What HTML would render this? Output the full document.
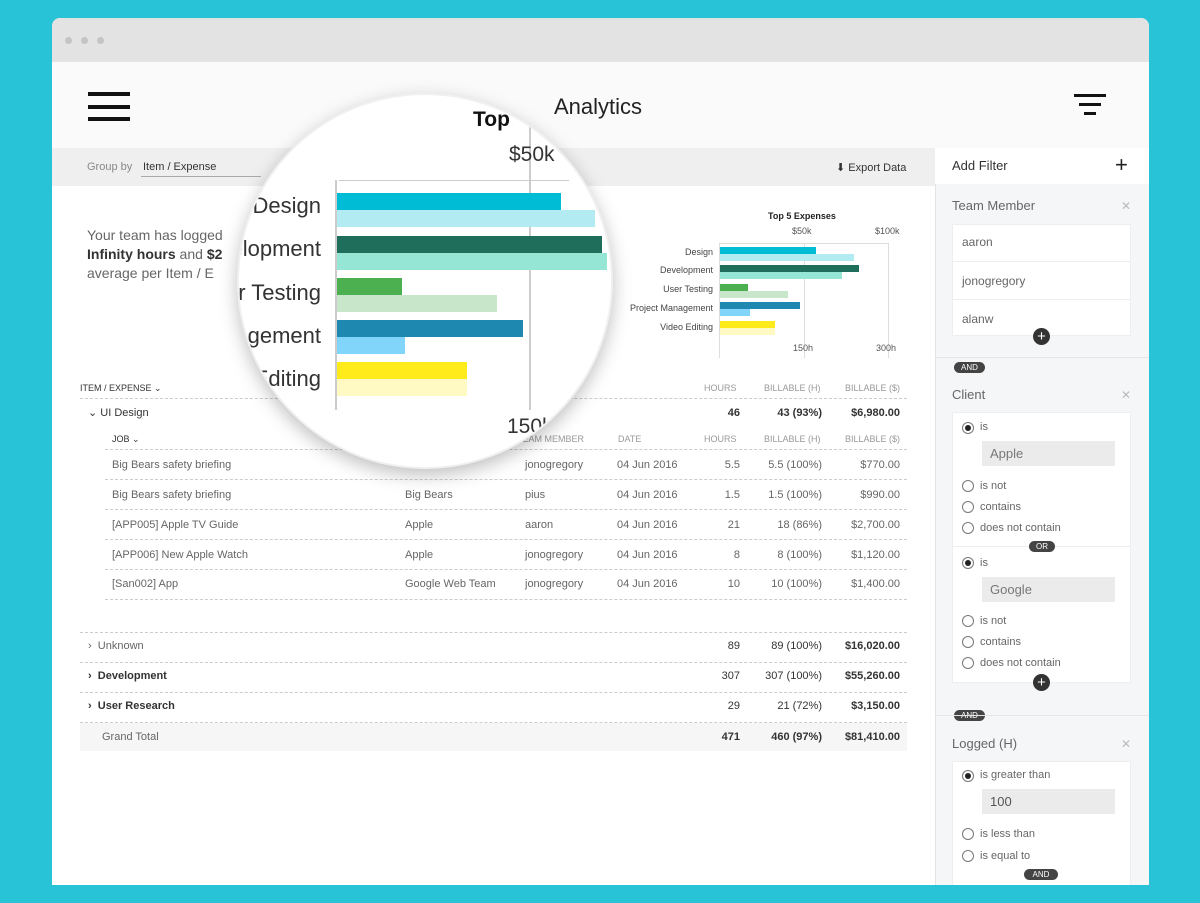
<!DOCTYPE html>
<html><head><meta charset="utf-8"><style>
*{margin:0;padding:0;box-sizing:border-box}
body{width:1200px;height:903px;background:#28c3d6;font-family:"Liberation Sans",sans-serif;position:relative;overflow:hidden;color:#555}
.a{position:absolute;white-space:nowrap}
.win{position:absolute;left:52px;top:18px;width:1097px;height:867px;background:#fff;border-radius:8px 8px 0 0;overflow:hidden}
.s{font-size:11px;color:#666}
.h{font-size:9px;color:#999}
.dash{position:absolute;height:0;border-top:1px dashed #ccc}
.r{text-align:right}
.rad{position:absolute;width:12px;height:12px;border:1px solid #777;border-radius:50%;background:#fff}
.rad.on::after{content:"";position:absolute;left:2px;top:2px;width:6px;height:6px;border-radius:50%;background:#222}
</style></head><body>
<div class="win">
<div class="a" style="left:0;top:0;width:1097px;height:44px;background:#e3e3e3"></div>
<div class="a" style="left:13px;top:19px;width:7px;height:7px;border-radius:50%;background:#c4c4c4"></div>
<div class="a" style="left:29px;top:19px;width:7px;height:7px;border-radius:50%;background:#c4c4c4"></div>
<div class="a" style="left:45px;top:19px;width:7px;height:7px;border-radius:50%;background:#c4c4c4"></div>
<div class="a" style="left:0;top:44px;width:1097px;height:86px;background:#fafafa"></div>
<div class="a" style="left:36px;top:74px;width:42px;height:4px;background:#111"></div>
<div class="a" style="left:36px;top:87px;width:42px;height:4px;background:#111"></div>
<div class="a" style="left:36px;top:99px;width:42px;height:4px;background:#111"></div>
<div class="a" style="left:502px;top:76px;font-size:22px;color:#222">Analytics</div>
<div class="a" style="left:1022px;top:76px;width:32px;height:3px;background:#111"></div>
<div class="a" style="left:1027px;top:85px;width:22px;height:3px;background:#111"></div>
<div class="a" style="left:1032px;top:94px;width:12px;height:3px;background:#111"></div>
<div class="a" style="left:0;top:130px;width:883px;height:38px;background:#efefef"></div>
<div class="a s" style="left:35px;top:143px;color:#888">Group by</div>
<div class="a s" style="left:91px;top:143px;color:#333">Item / Expense</div>
<div class="a" style="left:89px;top:158px;width:120px;height:1px;background:#aaa"></div>
<div class="a s" style="left:784px;top:143px;color:#333">⬇ Export Data</div>
<!-- right panel -->
<div class="a" style="left:883px;top:130px;width:214px;height:737px;background:#f5f6f7;border-left:1px solid #e4e4e4"></div>
<div class="a" style="left:883px;top:130px;width:214px;height:36px;background:#fff"></div>
<div class="a" style="left:900px;top:140px;font-size:13px;color:#333">Add Filter</div>
<div class="a" style="left:1063px;top:134px;font-size:22px;color:#222">+</div>
<div class="a" style="left:900px;top:180px;font-size:13px;color:#666">Team Member</div>
<div class="a" style="left:1069px;top:181px;font-size:12px;color:#bbb">✕</div>
<div class="a" style="left:900px;top:206px;width:179px;height:112px;background:#fff;border:1px solid #eee"></div>
<div class="a s" style="left:910px;top:217px;font-size:12px">aaron</div>
<div class="a" style="left:900px;top:243px;width:179px;height:1px;background:#eee"></div>
<div class="a s" style="left:910px;top:256px;font-size:12px">jonogregory</div>
<div class="a" style="left:900px;top:281px;width:179px;height:1px;background:#eee"></div>
<div class="a s" style="left:910px;top:294px;font-size:12px">alanw</div>
<div class="a" style="left:981px;top:310px;width:17px;height:17px;border-radius:50%;background:#333;color:#fff;font-size:15px;line-height:17px;text-align:center">+</div>
<div class="a" style="left:883px;top:339px;width:214px;height:1px;background:#e6e6e6"></div>
<div class="a" style="left:902px;top:344px;width:31px;height:11px;border-radius:6px;background:#444;color:#fff;font-size:8px;line-height:11px;text-align:center">AND</div>
<div class="a" style="left:900px;top:369px;font-size:13px;color:#666">Client</div>
<div class="a" style="left:1069px;top:370px;font-size:12px;color:#bbb">✕</div>
<div class="a" style="left:900px;top:394px;width:179px;height:271px;background:#fff;border:1px solid #eee"></div>
<div class="rad on" style="left:910px;top:404px"></div><div class="a s" style="left:928px;top:403px">is</div>
<div class="a" style="left:930px;top:423px;width:133px;height:25px;background:#ebebeb;font-size:13px;color:#777;padding:5px 8px">Apple</div>
<div class="rad" style="left:910px;top:462px"></div><div class="a s" style="left:928px;top:462px">is not</div>
<div class="rad" style="left:910px;top:483px"></div><div class="a s" style="left:928px;top:483px">contains</div>
<div class="rad" style="left:910px;top:504px"></div><div class="a s" style="left:928px;top:504px">does not contain</div>
<div class="a" style="left:900px;top:528px;width:179px;height:1px;background:#eee"></div>
<div class="a" style="left:977px;top:523px;width:26px;height:11px;border-radius:6px;background:#444;color:#fff;font-size:8px;line-height:11px;text-align:center">OR</div>
<div class="rad on" style="left:910px;top:539px"></div><div class="a s" style="left:928px;top:539px">is</div>
<div class="a" style="left:930px;top:559px;width:133px;height:25px;background:#ebebeb;font-size:13px;color:#777;padding:5px 8px">Google</div>
<div class="rad" style="left:910px;top:597px"></div><div class="a s" style="left:928px;top:597px">is not</div>
<div class="rad" style="left:910px;top:618px"></div><div class="a s" style="left:928px;top:618px">contains</div>
<div class="rad" style="left:910px;top:639px"></div><div class="a s" style="left:928px;top:639px">does not contain</div>
<div class="a" style="left:981px;top:656px;width:17px;height:17px;border-radius:50%;background:#333;color:#fff;font-size:15px;line-height:17px;text-align:center">+</div>
<div class="a" style="left:902px;top:692px;width:31px;height:11px;border-radius:6px;background:#444;color:#fff;font-size:8px;line-height:11px;text-align:center">AND</div>
<div class="a" style="left:883px;top:697px;width:214px;height:1px;background:#e6e6e6"></div>
<div class="a" style="left:900px;top:718px;font-size:13px;color:#666">Logged (H)</div>
<div class="a" style="left:1069px;top:719px;font-size:12px;color:#bbb">✕</div>
<div class="a" style="left:900px;top:743px;width:179px;height:130px;background:#fff;border:1px solid #eee"></div>
<div class="rad on" style="left:910px;top:752px"></div><div class="a s" style="left:928px;top:751px">is greater than</div>
<div class="a" style="left:930px;top:771px;width:133px;height:25px;background:#ebebeb;font-size:13px;color:#555;padding:5px 8px">100</div>
<div class="rad" style="left:910px;top:810px"></div><div class="a s" style="left:928px;top:810px">is less than</div>
<div class="rad" style="left:910px;top:832px"></div><div class="a s" style="left:928px;top:832px">is equal to</div>
<div class="a" style="left:972px;top:851px;width:34px;height:11px;border-radius:6px;background:#444;color:#fff;font-size:8px;line-height:11px;text-align:center">AND</div>
<!-- summary text -->
<div class="a" style="left:35px;top:208px;font-size:14px;color:#666;line-height:19px;white-space:normal;width:150px">Your team has logged <b style="color:#333">Infinity hours</b> and <b style="color:#333">$2</b> average per Item / E</div>
<!-- small chart -->
<div class="a" style="left:716px;top:193px;font-size:9px;font-weight:bold;color:#222">Top 5 Expenses</div>
<div class="a h" style="left:740px;top:208px;color:#555">$50k</div>
<div class="a h" style="left:823px;top:208px;color:#555">$100k</div>
<div class="a" style="left:667px;top:225px;width:1px;height:115px;background:#ddd"></div>
<div class="a" style="left:752px;top:225px;width:1px;height:115px;background:#ddd"></div>
<div class="a" style="left:836px;top:225px;width:1px;height:115px;background:#ddd"></div>
<div class="a" style="left:667px;top:225px;width:170px;height:1px;background:#ddd"></div>
<div class="a h r" style="left:560px;top:229px;width:101px;color:#444">Design</div>
<div class="a h r" style="left:560px;top:247px;width:101px;color:#444">Development</div>
<div class="a h r" style="left:560px;top:266px;width:101px;color:#444">User Testing</div>
<div class="a h r" style="left:560px;top:285px;width:101px;color:#444">Project Management</div>
<div class="a h r" style="left:560px;top:304px;width:101px;color:#444">Video Editing</div>
<div class="a" style="left:668px;top:229px;width:96px;height:7px;background:#00bcd4"></div>
<div class="a" style="left:668px;top:236px;width:134px;height:7px;background:#b2ebf2"></div>
<div class="a" style="left:668px;top:247px;width:139px;height:7px;background:#1f6e5c"></div>
<div class="a" style="left:668px;top:254px;width:122px;height:7px;background:#96e6d6"></div>
<div class="a" style="left:668px;top:266px;width:28px;height:7px;background:#4caf50"></div>
<div class="a" style="left:668px;top:273px;width:68px;height:7px;background:#c8e6c9"></div>
<div class="a" style="left:668px;top:284px;width:80px;height:7px;background:#1e88b0"></div>
<div class="a" style="left:668px;top:291px;width:30px;height:7px;background:#81d4fa"></div>
<div class="a" style="left:668px;top:303px;width:55px;height:7px;background:#ffeb1a"></div>
<div class="a" style="left:668px;top:310px;width:55px;height:7px;background:#fff9c4"></div>
<div class="a h" style="left:741px;top:325px;color:#555">150h</div>
<div class="a h" style="left:824px;top:325px;color:#555">300h</div>
<!-- table -->
<div class="a" style="left:28px;top:365px;font-size:9px;color:#333">ITEM / EXPENSE ⌄</div>
<div class="a h" style="left:652px;top:365px">HOURS</div>
<div class="a h" style="left:712px;top:365px">BILLABLE (H)</div>
<div class="a h" style="left:793px;top:365px">BILLABLE ($)</div>
<div class="dash" style="left:28px;top:380px;width:827px"></div>
<div class="a" style="left:36px;top:388px;font-size:11px;color:#333">⌄ UI Design</div>
<div class="a r" style="left:600px;top:389px;width:88px;font-size:11px;font-weight:bold;color:#333">46</div>
<div class="a r" style="left:690px;top:389px;width:80px;font-size:11px;font-weight:bold;color:#333">43 (93%)</div>
<div class="a r" style="left:770px;top:389px;width:78px;font-size:11px;font-weight:bold;color:#333">$6,980.00</div>
<div class="a" style="left:60px;top:416px;font-size:9px;color:#333">JOB ⌄</div>
<div class="a h" style="left:465px;top:416px">TEAM MEMBER</div>
<div class="a h" style="left:566px;top:416px">DATE</div>
<div class="a h" style="left:652px;top:416px">HOURS</div>
<div class="a h" style="left:712px;top:416px">BILLABLE (H)</div>
<div class="a h" style="left:793px;top:416px">BILLABLE ($)</div>
<div class="dash" style="left:53px;top:431px;width:802px"></div>
<div class="a s" style="left:60px;top:441px">Big Bears safety briefing</div><div class="a s" style="left:473px;top:441px">jonogregory</div><div class="a s" style="left:565px;top:441px">04 Jun 2016</div><div class="a s r" style="left:600px;top:441px;width:88px">5.5</div><div class="a s r" style="left:690px;top:441px;width:80px">5.5 (100%)</div><div class="a s r" style="left:770px;top:441px;width:78px">$770.00</div>
<div class="dash" style="left:53px;top:461px;width:802px"></div>
<div class="a s" style="left:60px;top:471px">Big Bears safety briefing</div><div class="a s" style="left:353px;top:471px">Big Bears</div><div class="a s" style="left:473px;top:471px">pius</div><div class="a s" style="left:565px;top:471px">04 Jun 2016</div><div class="a s r" style="left:600px;top:471px;width:88px">1.5</div><div class="a s r" style="left:690px;top:471px;width:80px">1.5 (100%)</div><div class="a s r" style="left:770px;top:471px;width:78px">$990.00</div>
<div class="dash" style="left:53px;top:491px;width:802px"></div>
<div class="a s" style="left:60px;top:501px">[APP005] Apple TV Guide</div><div class="a s" style="left:353px;top:501px">Apple</div><div class="a s" style="left:473px;top:501px">aaron</div><div class="a s" style="left:565px;top:501px">04 Jun 2016</div><div class="a s r" style="left:600px;top:501px;width:88px">21</div><div class="a s r" style="left:690px;top:501px;width:80px">18 (86%)</div><div class="a s r" style="left:770px;top:501px;width:78px">$2,700.00</div>
<div class="dash" style="left:53px;top:521px;width:802px"></div>
<div class="a s" style="left:60px;top:531px">[APP006] New Apple Watch</div><div class="a s" style="left:353px;top:531px">Apple</div><div class="a s" style="left:473px;top:531px">jonogregory</div><div class="a s" style="left:565px;top:531px">04 Jun 2016</div><div class="a s r" style="left:600px;top:531px;width:88px">8</div><div class="a s r" style="left:690px;top:531px;width:80px">8 (100%)</div><div class="a s r" style="left:770px;top:531px;width:78px">$1,120.00</div>
<div class="dash" style="left:53px;top:551px;width:802px"></div>
<div class="a s" style="left:60px;top:560px">[San002] App</div><div class="a s" style="left:353px;top:560px">Google Web Team</div><div class="a s" style="left:473px;top:560px">jonogregory</div><div class="a s" style="left:565px;top:560px">04 Jun 2016</div><div class="a s r" style="left:600px;top:560px;width:88px">10</div><div class="a s r" style="left:690px;top:560px;width:80px">10 (100%)</div><div class="a s r" style="left:770px;top:560px;width:78px">$1,400.00</div>
<div class="dash" style="left:53px;top:581px;width:802px"></div>
<div class="dash" style="left:28px;top:614px;width:827px"></div>
<div class="a s" style="left:36px;top:622px">›&nbsp; Unknown</div><div class="a s r" style="left:600px;top:622px;width:88px;color:#333">89</div><div class="a s r" style="left:690px;top:622px;width:80px;color:#333">89 (100%)</div><div class="a s r" style="left:770px;top:622px;width:78px;color:#333;font-weight:bold">$16,020.00</div>
<div class="dash" style="left:28px;top:644px;width:827px"></div>
<div class="a s" style="left:36px;top:652px;color:#333;font-weight:bold">›&nbsp; Development</div><div class="a s r" style="left:600px;top:652px;width:88px;color:#333">307</div><div class="a s r" style="left:690px;top:652px;width:80px;color:#333">307 (100%)</div><div class="a s r" style="left:770px;top:652px;width:78px;color:#333;font-weight:bold">$55,260.00</div>
<div class="dash" style="left:28px;top:674px;width:827px"></div>
<div class="a s" style="left:36px;top:682px;color:#333;font-weight:bold">›&nbsp; User Research</div><div class="a s r" style="left:600px;top:682px;width:88px;color:#333">29</div><div class="a s r" style="left:690px;top:682px;width:80px;color:#333">21 (72%)</div><div class="a s r" style="left:770px;top:682px;width:78px;color:#333;font-weight:bold">$3,150.00</div>
<div class="dash" style="left:28px;top:704px;width:827px"></div>
<div class="a" style="left:28px;top:705px;width:827px;height:28px;background:#f6f6f6"></div>
<div class="a s" style="left:50px;top:713px">Grand Total</div><div class="a s r" style="left:600px;top:713px;width:88px;color:#333;font-weight:bold">471</div><div class="a s r" style="left:690px;top:713px;width:80px;color:#333;font-weight:bold">460 (97%)</div><div class="a s r" style="left:770px;top:713px;width:78px;color:#333;font-weight:bold">$81,410.00</div>
<!-- magnifier -->
<div class="a" style="left:185px;top:75px;width:376px;height:376px;border-radius:50%;background:#fff;box-shadow:0 6px 18px rgba(0,0,0,.25);overflow:hidden;border:2px solid #f0f0f0">
 <div class="a" style="left:100px;top:85px;width:230px;height:1px;background:#ccc"></div>
 <div class="a" style="left:96px;top:85px;width:2px;height:230px;background:#ccc"></div>
 <div class="a" style="left:290px;top:25px;width:2px;height:290px;background:#ccc"></div>
 <div class="a" style="left:234px;top:13px;font-size:21px;font-weight:bold;color:#111">Top</div>
 <div class="a" style="left:270px;top:48px;font-size:21px;color:#333">$50k</div>
 <div class="a" style="left:268px;top:320px;font-size:21px;color:#333">150h</div>
 <div class="a r" style="left:-120px;top:98px;width:202px;font-size:22px;color:#333">Design</div>
 <div class="a r" style="left:-120px;top:141px;width:202px;font-size:22px;color:#333">Development</div>
 <div class="a r" style="left:-120px;top:185px;width:202px;font-size:22px;color:#333">User Testing</div>
 <div class="a r" style="left:-120px;top:228px;width:202px;font-size:22px;color:#333">Management</div>
 <div class="a r" style="left:-120px;top:271px;width:202px;font-size:22px;color:#333">Editing</div>
 <div class="a" style="left:98px;top:98px;width:224px;height:17px;background:#00bcd4"></div>
 <div class="a" style="left:98px;top:115px;width:258px;height:17px;background:#b2ebf2"></div>
 <div class="a" style="left:98px;top:141px;width:265px;height:17px;background:#1f6e5c"></div>
 <div class="a" style="left:98px;top:158px;width:270px;height:17px;background:#96e6d6"></div>
 <div class="a" style="left:98px;top:183px;width:65px;height:17px;background:#4caf50"></div>
 <div class="a" style="left:98px;top:200px;width:160px;height:17px;background:#c8e6c9"></div>
 <div class="a" style="left:98px;top:225px;width:186px;height:17px;background:#1e88b0"></div>
 <div class="a" style="left:98px;top:242px;width:68px;height:17px;background:#81d4fa"></div>
 <div class="a" style="left:98px;top:267px;width:130px;height:17px;background:#ffeb1a"></div>
 <div class="a" style="left:98px;top:284px;width:130px;height:17px;background:#fff9c4"></div>
</div>
</div>
</body></html>
